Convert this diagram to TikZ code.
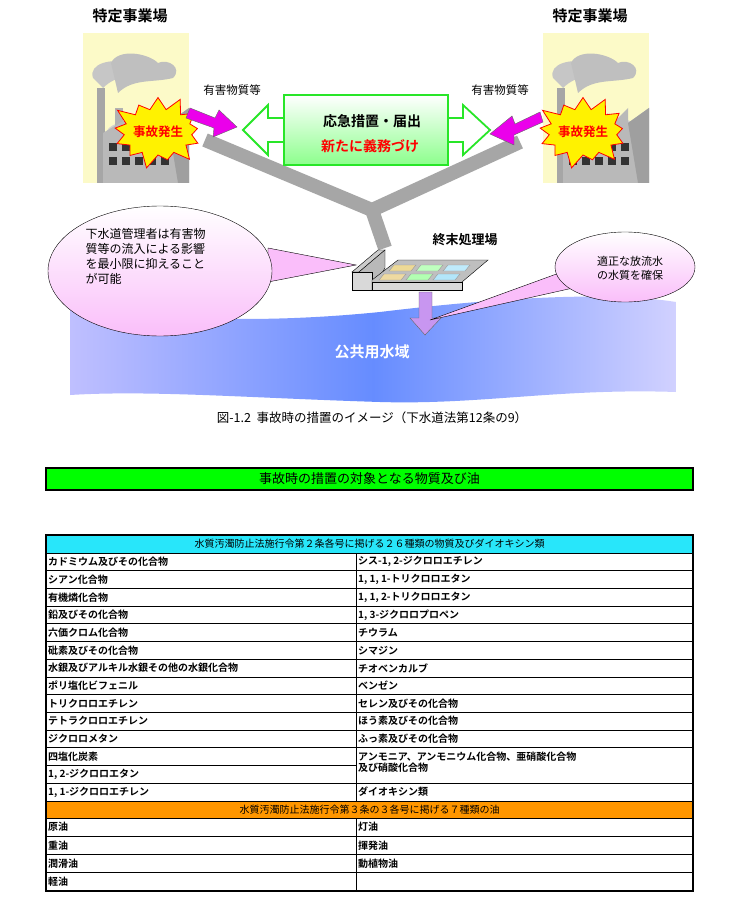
\documentclass[tikz,border=0pt]{standalone}
\usepackage{fontspec}
\setmainfont{Noto Sans CJK JP}
\newfontfamily\jpb{Noto Sans CJK JP Bold}
\usetikzlibrary{shapes.symbols,shapes.geometric}
\definecolor{factbg}{RGB}{252,250,200}
\definecolor{grn}{RGB}{40,230,40}
\definecolor{pinkc}{RGB}{250,190,250}
\definecolor{cyanh}{RGB}{40,230,250}
\definecolor{orgh}{RGB}{255,150,0}
\definecolor{mag}{RGB}{235,0,235}
\definecolor{purp}{RGB}{200,150,240}
\tikzset{
 ttl/.style={font=\jpb\fontsize{15}{17}\selectfont},
 small/.style={font=\fontsize{11.5}{13}\selectfont},
 cell/.style={font=\jpb\fontsize{10}{11}\selectfont,anchor=west,inner sep=0pt},
 hdr/.style={font=\fontsize{10}{11}\selectfont,inner sep=0pt},
 burst/.style={starburst,starburst points=13,starburst point height=16pt,fill=yellow,draw=red,line width=0.8pt,minimum width=100pt,minimum height=78pt,inner sep=0pt},
 magarrow/.style={fill=mag,draw=black!60,line width=0.4pt},
}
\newcommand{\factory}[2]{%
 \begin{scope}[shift={(#1,#2)}]
  \fill[factbg] (0,0) rectangle (106,150);
  \fill[gray!35] (30,110) .. controls (10,95) and (40,85) .. (60,88) .. controls (75,80) and (100,90) .. (95,100) .. controls (80,105) and (60,100) .. (45,110) -- cycle;
  \fill[gray!45] (10,45) .. controls (5,30) and (30,25) .. (45,30) .. controls (60,20) and (80,30) .. (70,42) .. controls (50,45) and (35,40) .. (20,55) -- cycle;
  \fill[gray!50] (28,30) .. controls (35,15) and (65,20) .. (75,30) .. controls (85,25) and (100,35) .. (90,45) .. controls (70,50) and (50,45) .. (35,60) -- cycle;
  \fill[gray!70] (14,55) rectangle (22,150);
  \fill[gray!60] (32,75) rectangle (40,150);
  \fill[gray!55] (20,150) -- (20,100) -- (45,85) -- (45,100) -- (65,80) -- (65,95) -- (85,75) -- (85,90) -- (106,75) -- (106,150) -- cycle;
  \fill[gray!75] (85,90) -- (106,75) -- (106,150) -- (95,150) -- cycle;
  \foreach \i in {0,...,4} {\fill[black!80] (26+\i*13,110) rectangle (34+\i*13,118); \fill[black!80] (26+\i*13,124) rectangle (34+\i*13,132);}
 \end{scope}}
\begin{document}
\begin{tikzpicture}[x=1pt,y=-1pt]
\useasboundingbox (0,0) rectangle (728,901);
\fill[white] (0,0) rectangle (728,901);
% factories
\factory{83}{33}
\factory{543}{33}
\node[ttl] (t1) at (130,16) {特定事業場};
\node[ttl] (t2) at (590,16) {特定事業場};
\node[small] (y1) at (232,90) {有害物質等};
\node[small] (y2) at (500,90) {有害物質等};
% gray Y pipes
\coordinate (jn) at (372,210);
\coordinate (pl) at (205,140);
\coordinate (pr) at (520,142);
\coordinate (st) at (385,248);
\draw[gray!70,line width=14pt] (pl) -- (jn) -- (pr);
\draw[gray!70,line width=14pt] (jn) -- (st);
% double arrow
\draw[grn,line width=1.8pt,fill=white] (243,130) -- (268,105) -- (268,118) -- (463,118) -- (463,105) -- (490,130) -- (463,155) -- (463,142) -- (268,142) -- (268,155) -- cycle;
\node[draw=grn,line width=1.8pt,top color=white,bottom color=green!45,minimum width=164pt,minimum height=70pt] (box) at (366,130) {};
\node[font=\jpb\fontsize{14}{16}\selectfont] (b1) at (372,121) {応急措置・届出};
\node[font=\jpb\fontsize{14}{16}\selectfont,text=red] (b2) at (370,146) {新たに義務づけ};
% bursts
\node[burst] (s1) at (158,132) {};
\node[font=\jpb\fontsize{12.5}{14}\selectfont,text=red] at (s1) {事故発生};
\node[burst] (s2) at (583,132) {};
\node[font=\jpb\fontsize{12.5}{14}\selectfont,text=red] at (s2) {事故発生};
% magenta arrows
\draw[magarrow] (190,108) -- (215,118) -- (219,110) -- (237,127) -- (213,137) -- (214,128) -- (186,118) -- cycle;
\draw[magarrow] (540,112) -- (515,124) -- (512,116) -- (490,134) -- (514,145) -- (514,135) -- (543,122) -- cycle;
% water
\shade[left color=blue!25,right color=blue!18,middle color=blue!75!cyan!60!white] (70,306) .. controls (150,318) and (250,325) .. (380,312) .. controls (480,300) and (600,290) .. (676,302) -- (676,392) .. controls (560,388) and (480,405) .. (380,402) .. controls (250,398) and (150,390) .. (70,395) -- cycle;
\node[font=\jpb\fontsize{15}{17}\selectfont,text=white] (pw) at (372,352) {公共用水域};
% purple arrow
\draw[fill=purp,draw=black!60] (419,292) -- (432,292) -- (432,318) -- (441,318) -- (425,335) -- (410,318) -- (419,318) -- cycle;
% treatment plant
\fill[gray!40,draw=black] (352,272) -- (378,250) -- (385,250) -- (359,272) -- cycle;
\fill[gray!55,draw=black] (359,272) -- (385,250) -- (385,268) -- (372,290) -- (359,290) -- cycle;
\fill[gray!30,draw=black] (352,272) rectangle (372,290);
\fill[gray!50,draw=black] (372,280) -- (398,260) -- (488,260) -- (462,282) -- (462,290) -- (372,290) -- cycle;
\fill[gray!30,draw=black] (372,282) -- (462,282) -- (462,290) -- (372,290) -- cycle;
\foreach \c/\x/\y in {yellow!40!brown!50/394/265, green!25/421/265, cyan!25/448/265, yellow!35!brown!45/384/274, green!30/411/274, cyan!30/438/274}
 {\fill[\c,draw=black!40] (\x,\y) -- (\x+22,\y) -- (\x+17,\y+6) -- (\x-5,\y+6) -- cycle;}
\node[font=\jpb\fontsize{13}{15}\selectfont] (tp) at (465,240) {終末処理場};
% callouts
\draw[fill=pinkc] (268,248) -- (356,265) -- (268,282) -- cycle;
\shade[draw=black,top color=white,bottom color=pinkc] (160,271) ellipse (112 and 65);
\node[font=\fontsize{12}{15}\selectfont,align=left,anchor=north west] (lt) at (82,225) {下水道管理者は有害物\\質等の流入による影響\\を最小限に抑えること\\が可能};
\draw[fill=pinkc] (562,272) -- (430,320) -- (582,286) -- cycle;
\shade[draw=black,top color=white,bottom color=pinkc] (625,267) ellipse (70 and 35);
\node[font=\fontsize{11}{14}\selectfont,align=left] (rt) at (630,268) {適正な放流水\\の水質を確保};
% caption
\node[font=\fontsize{12.5}{14}\selectfont] (cap) at (372,418) {図-1.2\ \ 事故時の措置のイメージ（下水道法第12条の9）};
% banner
\node[draw=black,line width=1.5pt,fill=green,minimum width=647pt,minimum height=22pt,inner sep=0pt,font=\fontsize{13}{15}\selectfont] (ban) at (369.5,479) {事故時の措置の対象となる物質及び油};
% table
\def\L{46}\def\M{356}\def\R{693}
\fill[cyanh] (\L,535) rectangle (\R,553);
\node[hdr] (h1) at (369.5,544) {水質汚濁防止法施行令第２条各号に掲げる２６種類の物質及びダイオキシン類};
\def\rh{17.7}
\foreach \i/\a in {0/カドミウム及びその化合物,1/シアン化合物,2/有機燐化合物,3/鉛及びその化合物,4/六価クロム化合物,5/砒素及びその化合物,6/水銀及びアルキル水銀その他の水銀化合物,7/ポリ塩化ビフェニル,8/トリクロロエチレン,9/テトラクロロエチレン,10/ジクロロメタン,11/四塩化炭素,12/{1, 2-ジクロロエタン},13/{1, 1-ジクロロエチレン}}
 {\node[cell] at (\L+2,553+\i*\rh+\rh/2) {\a};}
\foreach \i/\a in {0/{シス-1, 2-ジクロロエチレン},1/{1, 1, 1-トリクロロエタン},2/{1, 1, 2-トリクロロエタン},3/{1, 3-ジクロロプロペン},4/チウラム,5/シマジン,6/チオベンカルブ,7/ベンゼン,8/セレン及びその化合物,9/ほう素及びその化合物,10/ふっ素及びその化合物,13/ダイオキシン類}
 {\node[cell] at (\M+2,553+\i*\rh+\rh/2) {\a};}
\node[cell,align=left,anchor=north west] at (\M+2,553+11*\rh+4) {アンモニア、アンモニウム化合物、亜硝酸化合物\\及び硝酸化合物};
\foreach \i in {1,...,13} {\draw[line width=0.8pt] (\L,553+\i*\rh) -- (\M,553+\i*\rh);}
\foreach \i in {1,...,11,13} {\draw[line width=0.8pt] (\M,553+\i*\rh) -- (\R,553+\i*\rh);}
\fill[orgh] (\L,801) rectangle (\R,818);
\node[hdr] (h2) at (369.5,809.5) {水質汚濁防止法施行令第３条の３各号に掲げる７種類の油};
\def\oh{18.25}
\foreach \i/\a in {0/原油,1/重油,2/潤滑油,3/軽油} {\node[cell] at (\L+2,818+\i*\oh+\oh/2) {\a};}
\foreach \i/\a in {0/灯油,1/揮発油,2/動植物油} {\node[cell] at (\M+2,818+\i*\oh+\oh/2) {\a};}
\foreach \i in {1,2,3} {\draw[line width=0.8pt] (\L,818+\i*\oh) -- (\R,818+\i*\oh);}
\draw[line width=0.8pt] (\L,553) -- (\R,553) (\L,801) -- (\R,801) (\L,818) -- (\R,818);
\draw[line width=0.8pt] (\M,553) -- (\M,801) (\M,818) -- (\M,891);
\draw[line width=1.5pt] (\L,535) rectangle (\R,891);
\end{tikzpicture}
\end{document}
